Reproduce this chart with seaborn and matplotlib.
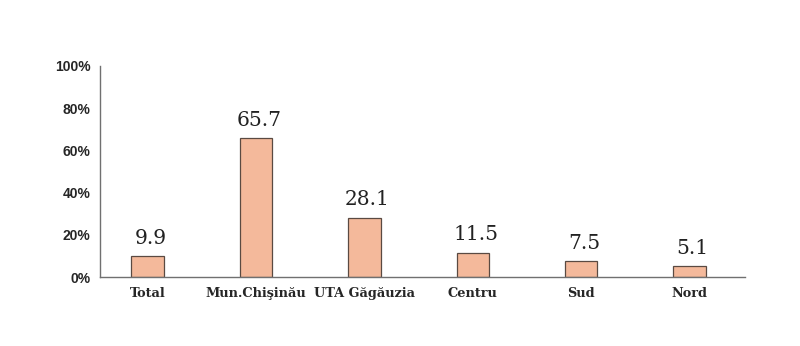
import matplotlib
matplotlib.use("Agg")
import matplotlib.pyplot as plt
import seaborn as sns
import pandas as pd

categories = ["Total", "Mun.Chişinău", "UTA Găgăuzia", "Centru", "Sud", "Nord"]
values = [9.9, 65.7, 28.1, 11.5, 7.5, 5.1]
yticks = [0, 20, 40, 60, 80, 100]
ytick_labels = ["0%", "20%", "40%", "60%", "80%", "100%"]

sns.set_style("white")
df = pd.DataFrame({"cat": categories, "val": values})

fig = plt.figure(figsize=(8, 3.46), dpi=100)
ax = fig.add_axes([0.125, 0.1994, 0.806, 0.61])
sns.barplot(data=df, x="cat", y="val", ax=ax, color="#F4B99B", width=0.3,
            edgecolor="#5a4a42", linewidth=0.9, saturation=1)

ax.set_xlim(-0.44, 5.51)
ax.set_ylim(0, 100)
ax.set_yticks(yticks)
ax.set_yticklabels(ytick_labels, fontfamily="Liberation Sans", fontweight="bold", fontsize=10)
ax.set_yticks([0], minor=True)
for lbl in ax.get_xticklabels():
    lbl.set_fontfamily("DejaVu Serif")
    lbl.set_fontweight("bold")
    lbl.set_fontsize(9.3)
ax.set_xlabel("")
ax.set_ylabel("")
for s in ["top", "right"]:
    ax.spines[s].set_visible(False)
for s in ["left", "bottom"]:
    ax.spines[s].set_color("#707070")
    ax.spines[s].set_linewidth(1.0)
ax.tick_params(axis="x", length=0, pad=7)
ax.tick_params(axis="y", which="major", length=0, pad=7)
ax.tick_params(axis="y", which="minor", length=5, width=1.0, color="#707070")

for i, v in enumerate(values):
    ax.annotate(f"{v}", (i, v), xytext=(2, 6), textcoords="offset points",
                ha="center", va="bottom", fontfamily="DejaVu Serif", fontsize=14.5,
                color="#222222")

fig.savefig("out.png", dpi=100)
